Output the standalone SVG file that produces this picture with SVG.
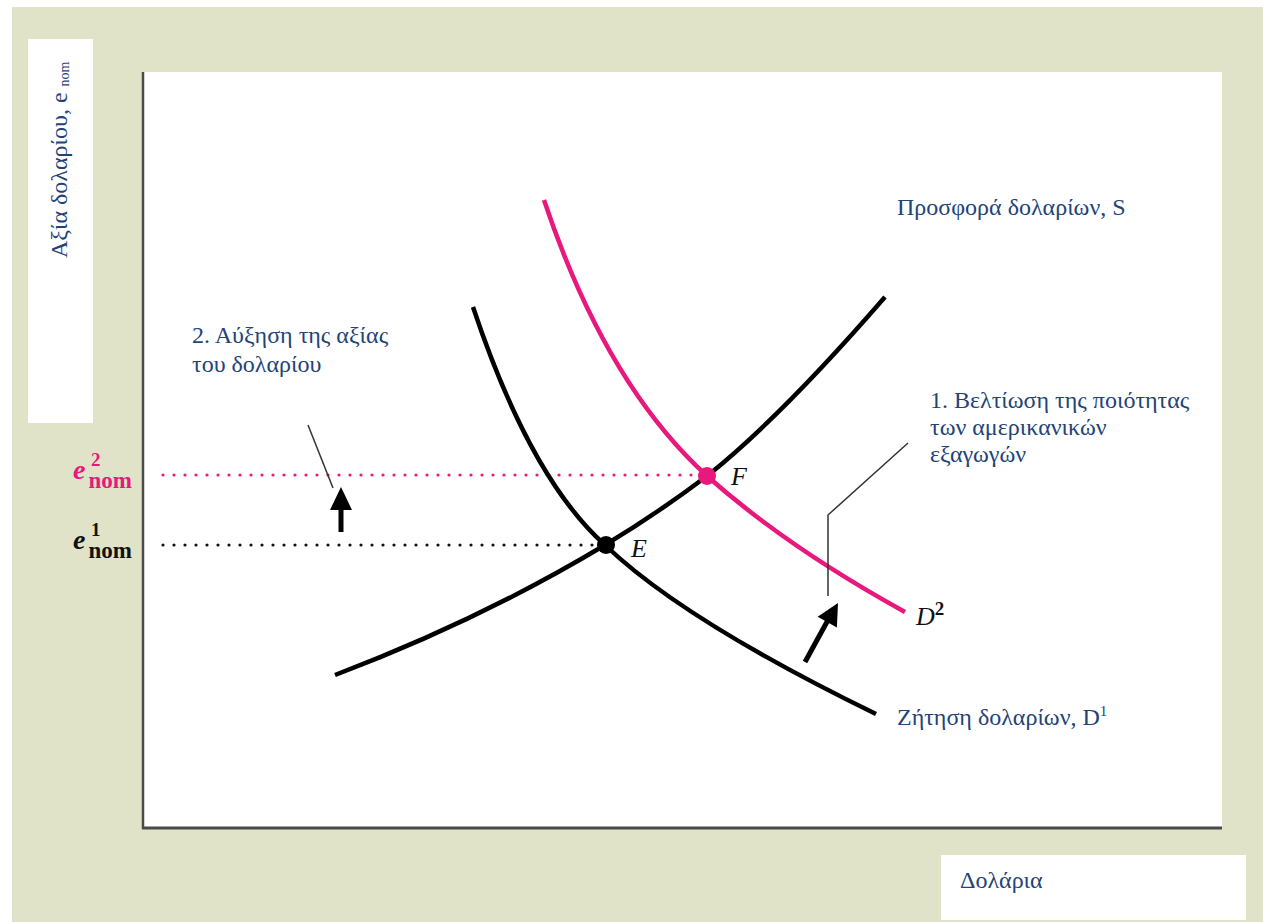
<svg xmlns="http://www.w3.org/2000/svg" width="1267" height="922" viewBox="0 0 1267 922">
  <defs>
    <style>
      .lbl { font-family: "Liberation Serif", "DejaVu Serif", serif; font-size: 24px; fill: #1f4478; }
      .curve { fill: none; stroke-width: 4.5; stroke-linecap: butt; }
      .blk { stroke: #000; }
      .pnk { stroke: #e8187c; }
      .lead { fill: none; stroke: #333; stroke-width: 1.5; }
      .dots { fill: none; stroke-width: 3.2; stroke-linecap: round; stroke-dasharray: 0 11; }
      .pt { font-family: "Liberation Serif", "Times New Roman", serif; font-style: italic; font-size: 26px; fill: #111; }
      .ev { font-family: "Liberation Serif", "Times New Roman", serif; font-weight: bold; }
    </style>
  </defs>

  <rect x="0" y="0" width="1267" height="922" fill="#ffffff"/>
  <rect x="12" y="7" width="1251" height="915" fill="#e1e3c8"/>

  <g id="y-axis-label">
    <rect x="28" y="39" width="65" height="384" fill="#ffffff"/>
    <text class="lbl" transform="translate(67,258) rotate(-90)">Αξία δολαρίου, e <tspan font-size="14" dy="2">nom</tspan></text>
  </g>

  <g id="plot">
    <rect x="143" y="72" width="1079" height="756" fill="#ffffff"/>
    <line x1="143" y1="72" x2="143" y2="829" stroke="#4a4a48" stroke-width="2.5"/>
    <line x1="142" y1="828" x2="1222" y2="828" stroke="#4a4a48" stroke-width="3"/>
  </g>

  <g id="x-axis-label">
    <rect x="941" y="855" width="305" height="65" fill="#ffffff"/>
    <text class="lbl" x="960" y="888">Δολάρια</text>
  </g>

  <g id="e-labels">
    <g id="e2">
      <text class="ev" x="73" y="479" font-size="28" font-style="italic" fill="#e8187c">e</text>
      <text class="ev" x="91" y="466" font-size="19" fill="#e8187c">2</text>
      <text class="ev" x="132" y="488" font-size="23" text-anchor="end" fill="#e8187c">nom</text>
    </g>
    <g id="e1">
      <text class="ev" x="73" y="549" font-size="28" font-style="italic" fill="#111">e</text>
      <text class="ev" x="91" y="536" font-size="19" fill="#111">1</text>
      <text class="ev" x="132" y="558" font-size="23" text-anchor="end" fill="#111">nom</text>
    </g>
  </g>

  <g id="connectors">
    <line class="dots" x1="163" y1="475" x2="698" y2="475" stroke="#e8187c"/>
    <line class="dots" x1="163" y1="545" x2="598" y2="545" stroke="#111"/>

    <path id="supply" class="curve blk" d="M335,675 Q480,620 605,545 Q658,513 707,476 Q779,419 885,297"/>
    <path id="demand1" class="curve blk" d="M473,307 Q530,478 605,545 Q683,620 876,714"/>
    <path id="demand2" class="curve pnk" d="M544,200 Q605,383 707,476 Q787,547 905,612"/>

    <path class="lead" d="M308,425 L333,488"/>
    <path class="lead" d="M828,596 L828,515 L908,443"/>

    <line x1="341" y1="532" x2="341" y2="506" stroke="#000" stroke-width="5"/>
    <polygon points="330,510 352,510 341,487" fill="#000"/>

    <line x1="805" y1="662" x2="828" y2="620" stroke="#000" stroke-width="5"/>
    <polygon points="838,603 836.9,627.6 817.7,616.8" fill="#000"/>
  </g>

  <g id="point-E">
    <circle cx="606" cy="545" r="9" fill="#000"/>
    <text class="pt" x="631" y="557">E</text>
  </g>
  <g id="point-F">
    <circle cx="707" cy="476" r="9" fill="#e8187c"/>
    <text class="pt" x="731" y="485">F</text>
  </g>

  <g id="label-D2">
    <text class="pt" x="916" y="625" font-size="28">D<tspan font-size="19" dy="-10" font-style="normal" font-weight="bold">2</tspan></text>
  </g>

  <g id="label-supply">
    <text class="lbl" x="897" y="215">Προσφορά δολαρίων, S</text>
  </g>
  <g id="label-demand1">
    <text class="lbl" x="897" y="725">Ζήτηση δολαρίων, D<tspan font-size="15" dy="-9">1</tspan></text>
  </g>
  <g id="label-step2">
    <text class="lbl" x="192" y="343">2. Αύξηση της αξίας</text>
    <text class="lbl" x="192" y="372">του δολαρίου</text>
  </g>
  <g id="label-step1">
    <text class="lbl" x="930" y="408">1. Βελτίωση της ποιότητας</text>
    <text class="lbl" x="930" y="435">των αμερικανικών</text>
    <text class="lbl" x="930" y="462">εξαγωγών</text>
  </g>
</svg>
